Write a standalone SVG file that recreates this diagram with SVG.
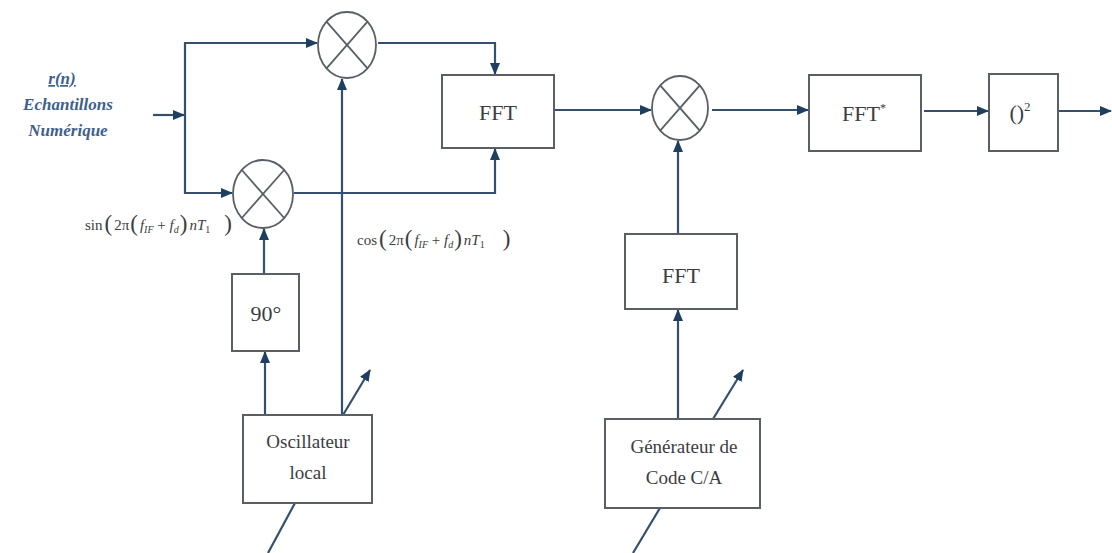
<svg xmlns="http://www.w3.org/2000/svg" width="1112" height="553" viewBox="0 0 1112 553">
<style>
.box{fill:#fff;stroke:#5a5f66;stroke-width:2}
.mul{fill:#fff;stroke:#5a5f66;stroke-width:1.8}
.x{stroke:#5a5f66;stroke-width:1.8}
.c{fill:none;stroke:#34506e;stroke-width:2.2}
.t{font-family:"Liberation Serif",serif;fill:#3a3d42;text-anchor:middle}
.in{font-family:"Liberation Serif",serif;font-style:italic;font-weight:bold;fill:#3d5f8e;text-anchor:middle;font-size:17px}
.m{font-family:"Liberation Serif",serif;fill:#3a3d42;font-size:15px}
</style>
<defs>
<marker id="a" markerUnits="userSpaceOnUse" markerWidth="12" markerHeight="10" refX="11" refY="5" orient="auto">
<path d="M0,0 L12,5 L0,10 z" fill="#1f3f60"/>
</marker>
</defs>
<rect width="1112" height="553" fill="#fff"/>

<g id="connectors">
<path class="c" d="M153,115 H184" marker-end="url(#a)"/>
<path class="c" d="M185,115 V43 H317" marker-end="url(#a)"/>
<path class="c" d="M185,115 V193 H232" marker-end="url(#a)"/>
<path class="c" d="M378,43 H495 V74" marker-end="url(#a)"/>
<path class="c" d="M294,193 H495 V149" marker-end="url(#a)"/>
<path class="c" d="M555,110 H651" marker-end="url(#a)"/>
<path class="c" d="M712,110 H808" marker-end="url(#a)"/>
<path class="c" d="M924,111 H988" marker-end="url(#a)"/>
<path class="c" d="M1058,111 H1111" marker-end="url(#a)"/>
<path class="c" d="M678,234 V141" marker-end="url(#a)"/>
<path class="c" d="M678,419 V310" marker-end="url(#a)"/>
<path class="c" d="M713,419 L743,370" marker-end="url(#a)"/>
<path class="c" d="M633,553 L660,508"/>
<path class="c" d="M265,415 V352" marker-end="url(#a)"/>
<path class="c" d="M264,274 V229" marker-end="url(#a)"/>
<path class="c" d="M342,415 V79" marker-end="url(#a)"/>
<path class="c" d="M343,415 L370,370" marker-end="url(#a)"/>
<path class="c" d="M268,553 L295,503"/>
</g>

<g id="input">
<text class="in" x="62" y="84" text-decoration="underline">r(n)</text>
<text class="in" x="68" y="110">Echantillons</text>
<text class="in" x="68" y="136">Numérique</text>
</g>

<g id="mult-top">
<ellipse class="mul" cx="347" cy="45" rx="29" ry="33"/>
<line class="x" x1="326.5" y1="21.7" x2="367.5" y2="68.3"/>
<line class="x" x1="367.5" y1="21.7" x2="326.5" y2="68.3"/>
</g>

<g id="mult-low">
<ellipse class="mul" cx="263" cy="194" rx="30" ry="34"/>
<line class="x" x1="241.8" y1="170" x2="284.2" y2="218"/>
<line class="x" x1="284.2" y1="170" x2="241.8" y2="218"/>
</g>

<g id="mult-right">
<ellipse class="mul" cx="680" cy="108" rx="28" ry="32"/>
<line class="x" x1="660.2" y1="85.4" x2="699.8" y2="130.6"/>
<line class="x" x1="699.8" y1="85.4" x2="660.2" y2="130.6"/>
</g>

<g id="sin-label">
<text class="m" x="85" y="230">sin<tspan font-size="23" dy="1" dx="2">(</tspan><tspan dy="-1" dx="2">2π</tspan><tspan font-size="23" dy="1" dx="1">(</tspan><tspan dy="-1" dx="2" font-style="italic">f</tspan><tspan font-size="10" dy="3" font-style="italic">IF</tspan><tspan dy="-3"> + </tspan><tspan font-style="italic">f</tspan><tspan font-size="10" dy="3" font-style="italic">d</tspan><tspan font-size="23" dy="-2" dx="1">)</tspan><tspan dy="-1" dx="2" font-style="italic">nT</tspan><tspan font-size="10" dy="3">1</tspan><tspan font-size="23" dy="-2" dx="14">)</tspan></text>
</g>

<g id="cos-label">
<text class="m" x="357" y="245">cos<tspan font-size="23" dy="1" dx="2">(</tspan><tspan dy="-1" dx="2">2π</tspan><tspan font-size="23" dy="1" dx="1">(</tspan><tspan dy="-1" dx="2" font-style="italic">f</tspan><tspan font-size="10" dy="3" font-style="italic">IF</tspan><tspan dy="-3"> + </tspan><tspan font-style="italic">f</tspan><tspan font-size="10" dy="3" font-style="italic">d</tspan><tspan font-size="23" dy="-2" dx="1">)</tspan><tspan dy="-1" dx="2" font-style="italic">nT</tspan><tspan font-size="10" dy="3">1</tspan><tspan font-size="23" dy="-2" dx="18">)</tspan></text>
</g>

<g id="fft1">
<rect class="box" x="442" y="75" width="112" height="73"/>
<text class="t" x="498" y="120" font-size="22">FFT</text>
</g>

<g id="fft-star">
<rect class="box" x="809" y="75" width="112" height="76"/>
<text class="t" x="864" y="121" font-size="22">FFT<tspan font-size="12" dy="-9">*</tspan></text>
</g>

<g id="square">
<rect class="box" x="989" y="74" width="69" height="77"/>
<text class="t" x="1020" y="120" font-size="22">()<tspan font-size="13" dy="-9">2</tspan></text>
</g>

<g id="fft2">
<rect class="box" x="625" y="234" width="112" height="75"/>
<text class="t" x="681" y="283" font-size="22">FFT</text>
</g>

<g id="ph90">
<rect class="box" x="232" y="274" width="67" height="77"/>
<text class="t" x="266" y="321" font-size="22">90°</text>
</g>

<g id="osc">
<rect class="box" x="243" y="415" width="129" height="88"/>
<text class="t" x="308" y="448" font-size="19">Oscillateur</text>
<text class="t" x="308" y="479" font-size="19">local</text>
</g>

<g id="gen">
<rect class="box" x="605" y="419" width="155" height="89"/>
<text class="t" x="684" y="453" font-size="19">Générateur de</text>
<text class="t" x="684" y="484" font-size="19">Code C/A</text>
</g>
</svg>
